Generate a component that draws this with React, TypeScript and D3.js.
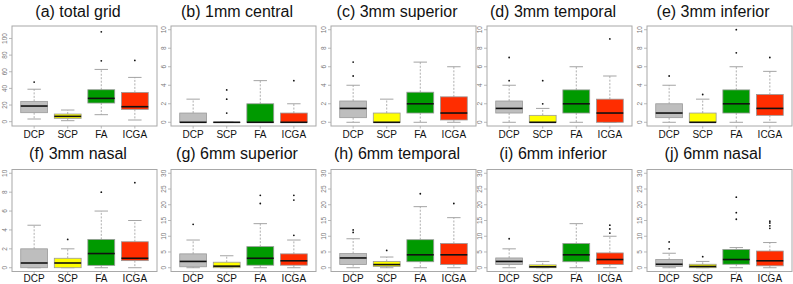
import React from "react";
import * as d3 from "d3";

const groups = ["DCP", "SCP", "FA", "ICGA"];
const fills = ["#bebebe", "#ffff00", "#009a00", "#ff2d00"];
const titles = [
  "(a) total grid", "(b) 1mm central", "(c) 3mm superior", "(d) 3mm temporal", "(e) 3mm inferior",
  "(f) 3mm nasal", "(g) 6mm superior", "(h) 6mm temporal", "(i) 6mm inferior", "(j) 6mm nasal",
];
const yDomains = [
  [-5.2, 115], [-0.4, 10.4], [-0.4, 10.4], [-0.4, 10.4], [-0.4, 10.4],
  [-0.4, 10.4], [-1.2, 31.2], [-1.2, 31.2], [-1.2, 31.2], [-1.2, 31.2],
];
const yTicks = [
  [0, 20, 40, 60, 80, 100], [0, 2, 4, 6, 8, 10], [0, 2, 4, 6, 8, 10], [0, 2, 4, 6, 8, 10], [0, 2, 4, 6, 8, 10],
  [0, 2, 4, 6, 8, 10], [0, 5, 10, 15, 20, 25, 30], [0, 5, 10, 15, 20, 25, 30], [0, 5, 10, 15, 20, 25, 30], [0, 5, 10, 15, 20, 25, 30],
];

// per panel, per group (DCP, SCP, FA, ICGA)
const lowWhisker = [
  [3.2, 1.2, 8.4, 2], [0, 0, 0, 0], [0, 0, 0, 0], [0, 0, 0, 0], [0, 0, 0, 0],
  [0, 0, 0, 0], [0, 0, 0, 0], [0, 0, 0, 0], [0, 0, 0, 0], [0, 0, 0, 0],
];
const q1 = [
  [10.8, 4, 22.4, 14.8], [0, 0, 0, 0], [0.5, 0, 1, 0.25], [1, 0, 1, 0], [0.5, 0, 1, 0.75],
  [0, 0, 0.25, 0.75], [0.3, 0, 0.8, 0.8], [1, 0.4, 1.9, 1], [1, 0, 1.9, 1], [0.4, 0, 1.1, 0.6],
];
const median = [
  [18.8, 6.4, 28, 18], [0, 0, 0, 0], [1.5, 0, 2, 1], [1.5, 0, 2, 1], [1, 0, 2, 1.5],
  [0.5, 0.5, 1.5, 1], [2, 0.5, 3, 2.2], [3.1, 1, 4.1, 4.1], [2, 0.3, 4.1, 2.6], [1.1, 0.4, 2.6, 2.2],
];
const q3 = [
  [24.4, 9.2, 38.4, 35.2], [1, 0, 2, 1], [2.3, 1, 3.25, 2.75], [2.3, 0.75, 3.5, 2.5], [2, 1, 3.5, 3],
  [2, 1, 3, 2.75], [4.4, 1.75, 6.7, 4.4], [4.5, 2, 8.9, 7.7], [3.1, 0.9, 7.7, 4.7], [2.6, 1.1, 5.8, 5.3],
];
const highWhisker = [
  [39, 14, 62.8, 53.2], [2.5, 0, 4.5, 2], [4, 2.5, 6.5, 6], [4, 1.5, 6, 5], [4, 2.5, 6, 5.5],
  [4.5, 2, 6, 5], [8.8, 3.8, 14, 8.8], [9.2, 3.4, 19.4, 15.9], [6, 2, 14, 10], [4.6, 2, 6.4, 8],
];
const outliers = [
  [[47.6], [], [73.2, 108], [73.6]],
  [[], [1, 2.5, 3.5], [], [4.5]],
  [[5, 6.5], [], [], []],
  [[4.5, 7], [2, 4.5], [], [9]],
  [[5], [3], [7.5, 10], [7]],
  [[], [3], [8], [9]],
  [[13.8], [], [20.4, 23], [10.3, 21.5, 23]],
  [[11.2, 12], [5.5], [23.5], [20.4]],
  [[9.2], [], [], [11, 12.3, 13.5]],
  [[6, 8.2], [3.5], [15.4, 17.5, 22.4], [12.5, 13.3, 14.2, 14.8]],
];

const panelLefts = [12, 171, 331, 487, 647];
const panelWidth = 145;
const rowTops = [26, 169.5];
const rowHeights = [100, 102];
const titleBaselines = [17, 159];
const labelBaselines = [137.5, 282];

const FONT = "'Liberation Sans', Arial, Helvetica, sans-serif";
const frameColor = "#a8a8a8";
const boxBorder = "#9a9a9a";

function Panel({ i }: { i: number }) {
  const row = Math.floor(i / 5);
  const col = i % 5;
  const left = panelLefts[col];
  const top = rowTops[row];
  const h = rowHeights[row];
  const x = d3.scaleLinear().domain([0.34, 4.66]).range([left, left + panelWidth]);
  const y = d3.scaleLinear().domain(yDomains[i]).range([top + h, top]);
  const bw = x(1.4) - x(0.6);
  const cap = bw / 2;
  return (
    <g>
      <text x={left + 66} y={titleBaselines[row]} fontSize={16} textAnchor="middle" fontFamily={FONT} fill="#111">
        {titles[i]}
      </text>
      <rect x={left} y={top} width={panelWidth} height={h} fill="white" stroke={frameColor} strokeWidth={1} />
      {yTicks[i].map((t) => (
        <g key={t}>
          <line x1={left - 3} x2={left} y1={y(t)} y2={y(t)} stroke={frameColor} strokeWidth={0.8} />
          <text
            transform={`translate(${left - 5},${y(t)}) rotate(-90)`}
            fontSize={6.5}
            textAnchor="middle"
            fontFamily={FONT}
            fill="#777"
          >
            {t}
          </text>
        </g>
      ))}
      {groups.map((g, j) => {
        const cx = x(j + 1);
        return (
          <g key={g}>
            <line x1={cx} x2={cx} y1={top + h} y2={top + h + 2.5} stroke={frameColor} strokeWidth={0.8} />
            <text x={cx} y={labelBaselines[row]} fontSize={10} textAnchor="middle" fontFamily={FONT} fill="#111">
              {g}
            </text>
            <line x1={cx} x2={cx} y1={y(q3[i][j])} y2={y(highWhisker[i][j])} stroke={boxBorder} strokeWidth={0.8} strokeDasharray="2,1.5" />
            <line x1={cx} x2={cx} y1={y(q1[i][j])} y2={y(lowWhisker[i][j])} stroke={boxBorder} strokeWidth={0.8} strokeDasharray="2,1.5" />
            <line x1={cx - cap / 2} x2={cx + cap / 2} y1={y(highWhisker[i][j])} y2={y(highWhisker[i][j])} stroke={boxBorder} strokeWidth={0.9} />
            <line x1={cx - cap / 2} x2={cx + cap / 2} y1={y(lowWhisker[i][j])} y2={y(lowWhisker[i][j])} stroke={boxBorder} strokeWidth={0.9} />
            <rect
              x={cx - bw / 2}
              y={y(q3[i][j])}
              width={bw}
              height={Math.max(0.01, y(q1[i][j]) - y(q3[i][j]))}
              fill={fills[j]}
              stroke={boxBorder}
              strokeWidth={0.8}
            />
            <line x1={cx - bw / 2} x2={cx + bw / 2} y1={y(median[i][j])} y2={y(median[i][j])} stroke="#111" strokeWidth={1.6} />
            {outliers[i][j].map((v, k) => (
              <circle key={k} cx={cx} cy={y(v)} r={0.9} fill="#111" />
            ))}
          </g>
        );
      })}
    </g>
  );
}

export default function App() {
  return (
    <svg width={793} height={284} style={{ position: "absolute", left: 0, top: 0, background: "white" }}>
      <rect x={0} y={0} width={793} height={284} fill="white" />
      {titles.map((_, i) => (
        <Panel key={i} i={i} />
      ))}
    </svg>
  );
}
